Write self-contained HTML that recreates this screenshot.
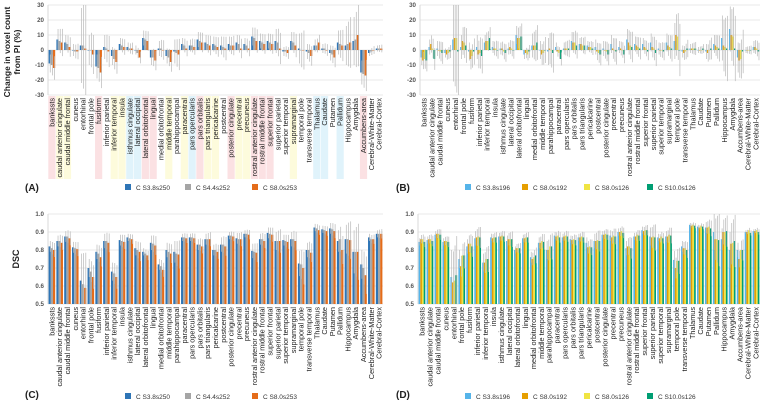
<!DOCTYPE html>
<html><head><meta charset="utf-8">
<style>
html,body{margin:0;padding:0;background:#fff;}
svg{display:block;font-family:"Liberation Sans",sans-serif;}
</style></head>
<body>
<svg id="fig" width="760" height="403" viewBox="0 0 760 403" xmlns="http://www.w3.org/2000/svg">
<text transform="translate(10,52) rotate(-90)" text-anchor="middle" font-size="8.5" font-weight="bold" fill="#222">Change in voxel count</text>
<text transform="translate(20,52) rotate(-90)" text-anchor="middle" font-size="8.5" font-weight="bold" fill="#222">from PI (%)</text>
<text transform="translate(19,259) rotate(-90)" text-anchor="middle" font-size="9" font-weight="bold" fill="#222">DSC</text>
<text x="25" y="191" font-size="10" font-weight="bold" fill="#222">(A)</text>
<text x="396" y="191" font-size="10" font-weight="bold" fill="#222">(B)</text>
<text x="25" y="398" font-size="10" font-weight="bold" fill="#222">(C)</text>
<text x="396" y="398" font-size="10" font-weight="bold" fill="#222">(D)</text>
</svg>
<script>
const categories=["bankssts","caudal anterior cingulate","caudal middle frontal","cuneus","entorhinal","frontal pole","fusiform","inferior parietal","inferior temporal","insula","isthmus cingulate","lateral occipital","lateral orbitofrontal","lingual","medial orbitofrontal","middle temporal","parahippocampal","paracentral","pars opercularis","pars orbitalis","pars triangularis","pericalcarine","postcentral","posterior cingulate","precentral","precuneus","rostral anterior cingulate","rostral middle frontal","superior frontal","superior parietal","superior temporal","supramarginal","temporal pole","transverse temporal","Thalamus","Caudate","Putamen","Pallidum","Hippocampus","Amygdala","Accumbens-area","Cerebral-White-Matter","Cerebral-Cortex"];
const shadeA=["p","y","y","","","","p","","y","y","b","b","p","p","","y","","y","b","p","y","y","","p","y","y","p","p","p","","","y","","","b","b","","b","","","p","",""];
const seriesNamesA=["C S3.8s250","C S4.4s252","C S8.0s253"];
const seriesNamesB=["C S3.8s196","C S8.0s192","C S8.0s126","C S10.0s126"];
const ticksA=[30,20,10,0,-10,-20,-30];
const ticksC=[1.0,0.9,0.8,0.7,0.6,0.5];
const a1=[-9,7,5,0,3,0,-11,2,-4,4,2,0,8,-5,1,-4,-1,4,3,7,5,4,3,4,5,4,9,6,6,6,-1,6,1,-1,3,1,-2,5,3,6,-15,-2,1];
const a2=[-10,6,4,-1,3,0,-12,1,-6,3,1,-2,7,-5,1,-5,-2,3,3,6,4,3,2,3,4,3,8,5,5,5,-1,5,0,-2,3,1,-3,4,4,7,-16,-1,1];
const a3=[-12,5,2,-1,1,-3,-15,-1,-8,2,1,-5,6,-7,0,-8,-3,1,2,5,3,2,1,3,1,1,6,4,4,1,-2,3,0,-4,5,0,-5,3,5,10,-17,0,1];
const errA=[6,7,5,4,25,10,8,8,6,4,3,3,5,5,5,5,8,4,4,5,5,5,6,5,5,4,6,5,5,8,3,6,10,5,4,3,5,8,13,16,8,2,2];
const b1=[-5,2,1,-2,7,2,-1,2,5,2,1,1,10,-3,3,0,-1,2,1,6,4,3,2,1,4,2,7,4,4,5,1,5,6,-1,1,0,-1,4,8,14,-5,0,2];
const b2=[-7,4,0,-3,8,6,-6,-3,6,1,1,2,8,-2,3,-3,1,-1,1,5,4,2,-1,0,1,1,5,3,2,2,0,3,10,-2,1,0,-2,3,3,10,-7,0,2];
const b3=[-6,1,-1,-2,8,5,-4,-2,6,1,-1,1,8,-3,3,-2,0,-2,1,5,3,2,-2,-1,0,0,3,2,1,1,0,2,9,-1,1,0,0,2,2,9,-6,0,1];
const b4=[-7,-6,-2,-1,-1,3,-1,-4,8,0,-2,0,9,-1,5,0,-2,-6,1,3,3,1,-3,-3,-1,-3,2,1,-1,-2,-1,1,0,1,1,1,1,1,1,1,-1,0,-1];
const errB=[5,5,5,3,28,8,6,8,5,4,4,4,6,3,8,6,9,3,4,6,4,3,5,5,6,4,7,5,4,6,4,6,12,4,3,2,5,6,15,15,10,2,4];
const c1=[.82,.85,.875,.815,.63,.70,.79,.85,.68,.855,.87,.81,.79,.84,.72,.80,.79,.87,.87,.83,.86,.80,.83,.88,.865,.89,.795,.86,.895,.85,.855,.86,.725,.80,.925,.915,.92,.85,.86,.79,.72,.87,.89];
const c2=[.81,.85,.875,.81,.61,.68,.78,.85,.67,.85,.865,.80,.78,.835,.71,.79,.78,.87,.87,.83,.86,.80,.83,.88,.86,.89,.79,.86,.89,.85,.85,.86,.72,.80,.92,.91,.915,.86,.86,.79,.70,.86,.89];
const c3=[.80,.84,.865,.805,.59,.65,.76,.84,.65,.845,.86,.79,.77,.825,.69,.78,.775,.865,.865,.82,.86,.79,.82,.875,.86,.885,.785,.85,.885,.85,.845,.85,.70,.785,.91,.905,.905,.80,.855,.79,.66,.86,.89];
const errC=[.03,.03,.03,.03,.15,.05,.04,.04,.05,.03,.02,.04,.02,.04,.03,.04,.06,.02,.02,.03,.03,.03,.04,.02,.03,.02,.04,.03,.03,.05,.03,.04,.07,.04,.02,.02,.03,.06,.08,.12,.08,.02,.02];
const d1=[.845,.855,.885,.845,.65,.75,.82,.865,.73,.87,.875,.85,.80,.865,.76,.84,.80,.88,.87,.86,.87,.84,.85,.885,.88,.90,.81,.875,.91,.875,.87,.875,.745,.82,.94,.93,.925,.90,.86,.80,.80,.90,.905];
const d2=[.86,.86,.89,.85,.62,.71,.835,.87,.73,.865,.875,.86,.81,.865,.75,.84,.80,.875,.875,.855,.87,.815,.85,.885,.87,.90,.82,.875,.905,.87,.865,.875,.70,.81,.935,.925,.925,.86,.90,.835,.75,.90,.905];
const d3=[.86,.86,.89,.85,.63,.77,.835,.875,.75,.87,.88,.86,.81,.87,.76,.85,.82,.88,.88,.86,.875,.82,.855,.89,.88,.905,.82,.885,.91,.875,.875,.885,.74,.81,.94,.935,.93,.86,.90,.84,.80,.91,.91];
const d4=[.845,.85,.885,.845,.66,.77,.82,.87,.75,.87,.875,.86,.81,.87,.77,.845,.82,.87,.875,.855,.87,.815,.85,.885,.875,.895,.81,.88,.91,.87,.865,.88,.74,.80,.935,.93,.92,.855,.905,.85,.80,.895,.90];
const errD=[.02,.02,.02,.02,.15,.05,.04,.04,.05,.02,.02,.03,.02,.02,.03,.03,.05,.02,.02,.02,.02,.03,.04,.02,.03,.02,.04,.02,.02,.05,.02,.03,.05,.03,.01,.01,.03,.1,.06,.1,.04,.01,.01];

const NS="http://www.w3.org/2000/svg";
const svg=document.getElementById('fig');
function mk(tag,attrs,parent){const e=document.createElementNS(NS,tag);for(const k in attrs)e.setAttribute(k,attrs[k]);(parent||svg).appendChild(e);return e;}

function panel(p){
  const g=mk('g',{});
  
  
  const ymin=p.ticks[p.ticks.length-1],ymax=p.ticks[0];
  const ys=v=>p.yb+(v-ymin)/(ymax-ymin)*(p.yt-p.yb);
  const bw=(p.x1-p.x0)/categories.length;
  const xs=i=>p.x0+i*bw;
  if(p.shade){p.shade.forEach((s,i)=>{if(!s)return;
    const r=mk('rect',{x:xs(i)+0.3,y:p.yb+1,width:bw-0.6,height:p.labBot-p.yb-1,fill:s=='p'?'#fbe1e3':s=='y'?'#fdfbdc':'#e0f3fb'},g);
    
    });}
  p.ticks.forEach(t=>{
    const l=mk('line',{x1:p.x0,x2:p.x1,y1:ys(t),y2:ys(t),stroke:'#e3e3e3','stroke-width':0.8},g);
    
    
    const tx=mk('text',{x:p.x0-4,y:ys(t)+2.2,'text-anchor':'end','font-size':6.2,'font-weight':'bold',fill:'#555'},g);
    
    
    tx.textContent=p.dsc?t.toFixed(1):String(t);
  });
  const ax=mk('line',{x1:p.x0,x2:p.x0,y1:p.yt,y2:p.yb,stroke:'#d0d0d0','stroke-width':0.8},g);
  
  
  const base=p.dsc?ymin:0;
  const ns=p.series.length;
  const w=(bw-1.2)/ns;
  p.series.forEach((s,si)=>{
    s.forEach((v,i)=>{
      const x=xs(i)+0.6+si*w;
      const y0=ys(base),y1=ys(v);
      const r=mk('rect',{x:x,y:Math.min(y0,y1),width:w,height:Math.max(0.5,Math.abs(y1-y0)),fill:p.colors[si]},g);
      
      
      const e=p.err[i]*(1+0.15*si);
      const ya=Math.max(p.yt,Math.min(p.yb,ys(v+e))),yb2=Math.max(p.yt,Math.min(p.yb,ys(v-e)));
      const el=mk('line',{x1:x+w*0.75,x2:x+w*0.75,y1:ya,y2:yb2,stroke:'#b8b8b8','stroke-width':0.7},g);
      
      
    });
  });
  categories.forEach((c,i)=>{
    const t=mk('text',{transform:`translate(${xs(i)+bw/2+2.5},${p.yb+3}) rotate(-90)`,'text-anchor':'end','font-size':7.3,fill:'#222'},g);
    
    
    t.textContent=c;
  });
  p.legendX.forEach((lx,si)=>{
    const r=mk('rect',{x:lx,y:p.legY-6,width:6,height:6,fill:p.colors[si]},g);
    
    
    const t=mk('text',{x:lx+11,y:p.legY,'font-size':6.5,fill:'#333'},g);
    
    
    t.textContent=p.names[si];
  });
}
const colA=['#2e75b6','#a5a5a5','#e46c1a'];
const colB=['#56b4e9','#e69f00','#f0e442','#009e73'];
panel({name:'panel-a',x0:48,x1:383,yt:5,yb:95,labBot:179,ticks:ticksA,series:[a1,a2,a3],err:errA,colors:colA,shade:shadeA,names:seriesNamesA,legendX:[125,185,252],legY:190});
panel({name:'panel-b',x0:420,x1:760,yt:5,yb:95,labBot:179,ticks:ticksA,series:[b1,b2,b3,b4],err:errB,colors:colB,names:seriesNamesB,legendX:[465,522,584,647],legY:190});
panel({name:'panel-c',x0:48,x1:383,yt:214,yb:304,labBot:388,ticks:ticksC,dsc:true,series:[c1,c2,c3],err:errC,colors:colA,names:seriesNamesA,legendX:[125,185,252],legY:399});
panel({name:'panel-d',x0:418,x1:760,yt:214,yb:304,labBot:388,ticks:ticksC,dsc:true,series:[d1,d2,d3,d4],err:errD,colors:colB,names:seriesNamesB,legendX:[465,522,584,647],legY:399});
</script>
</body></html>
